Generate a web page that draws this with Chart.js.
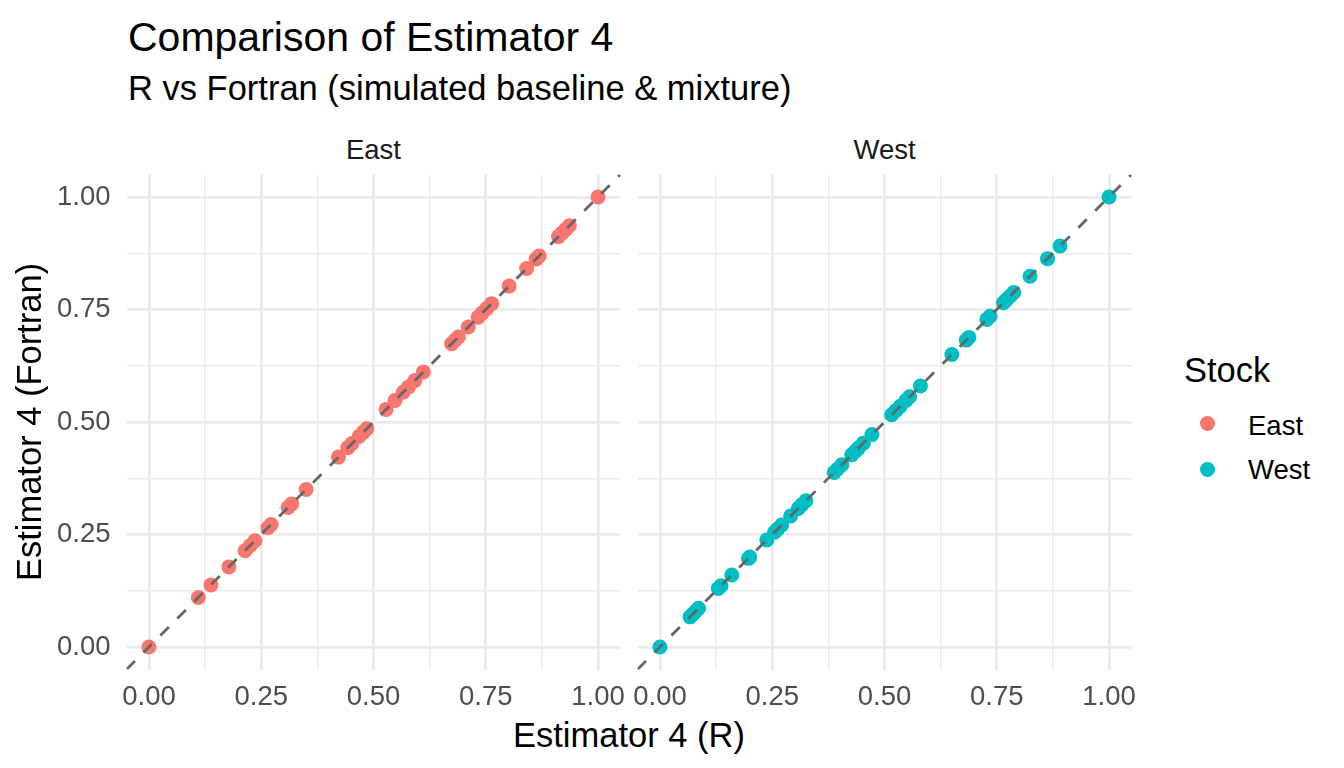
<!DOCTYPE html>
<html><head><meta charset="utf-8">
<script src="https://cdn.jsdelivr.net/npm/chart.js@4.4.1/dist/chart.umd.min.js"></script>
<style>
html,body{margin:0;padding:0;background:#fff}
body{width:1344px;height:768px;position:relative;overflow:hidden;font-family:"Liberation Sans",Arial,Helvetica,sans-serif}
canvas{position:absolute;left:0;top:0}
.t{position:absolute;white-space:nowrap;line-height:1;margin:0}
.key{position:absolute;width:15px;height:15px;border-radius:50%}
</style></head>
<body>
<div class="t" id="title" style="left:128px;top:17px;font-size:41px;color:#000">Comparison of Estimator 4</div>
<div class="t" id="subtitle" style="left:128px;top:70.5px;font-size:34.5px;color:#000">R vs Fortran (simulated baseline &amp; mixture)</div>
<div class="t" id="stripEast" style="left:373.5px;top:135.5px;font-size:27.5px;color:#1a1a1a;transform:translateX(-50%)"></div>
<div class="t" id="stripWest" style="left:884.5px;top:135.5px;font-size:27.5px;color:#1a1a1a;transform:translateX(-50%)"></div>
<div class="t" id="xtitle" style="left:629px;top:718px;font-size:34.5px;color:#000;transform:translateX(-50%)">Estimator 4 (R)</div>
<div class="t" id="legTitle" style="left:1184px;top:353px;font-size:34.5px;color:#000">Stock</div>
<div class="key" id="keyEast" style="left:1199.5px;top:416px"></div>
<div class="key" id="keyWest" style="left:1199.5px;top:462px"></div>
<div class="t" id="legEast" style="left:1248px;top:411.5px;font-size:27.5px;color:#000"></div>
<div class="t" id="legWest" style="left:1248px;top:455.5px;font-size:27.5px;color:#000"></div>
<canvas id="east" width="1344" height="768" style="width:1344px;height:768px"></canvas>
<canvas id="west" width="1344" height="768" style="width:1344px;height:768px"></canvas>
<script>
// ---- data ----
const stocks = ["East", "West"];
const stockColors = ["#F8766D", "#00BFC4"];
const eastR = [0.000, 0.110, 0.138, 0.178, 0.214, 0.225, 0.236, 0.265, 0.272, 0.310, 0.318, 0.350,
  0.422, 0.443, 0.452, 0.468, 0.478, 0.485, 0.528, 0.548, 0.566, 0.578, 0.592, 0.611,
  0.674, 0.682, 0.689, 0.711, 0.733, 0.742, 0.752, 0.763, 0.802, 0.841, 0.862, 0.869,
  0.912, 0.920, 0.928, 0.936, 1.000];
const eastFortran = [0.000, 0.110, 0.138, 0.178, 0.214, 0.225, 0.236, 0.265, 0.272, 0.310, 0.318, 0.350,
  0.422, 0.443, 0.452, 0.468, 0.478, 0.485, 0.528, 0.548, 0.566, 0.578, 0.592, 0.611,
  0.674, 0.682, 0.689, 0.711, 0.733, 0.742, 0.752, 0.763, 0.802, 0.841, 0.862, 0.869,
  0.912, 0.920, 0.928, 0.936, 1.000];
const westR = [0.000, 0.067, 0.074, 0.080, 0.086, 0.130, 0.136, 0.160, 0.197, 0.200, 0.238, 0.255,
  0.262, 0.271, 0.291, 0.308, 0.316, 0.325, 0.388, 0.395, 0.405, 0.427, 0.435, 0.442,
  0.453, 0.472, 0.516, 0.525, 0.535, 0.548, 0.556, 0.580, 0.650, 0.682, 0.688, 0.728,
  0.735, 0.765, 0.772, 0.780, 0.788, 0.824, 0.863, 0.891, 1.000];
const westFortran = [0.000, 0.067, 0.074, 0.080, 0.086, 0.130, 0.136, 0.160, 0.197, 0.200, 0.238, 0.255,
  0.262, 0.271, 0.291, 0.308, 0.316, 0.325, 0.388, 0.395, 0.405, 0.427, 0.435, 0.442,
  0.453, 0.472, 0.516, 0.525, 0.535, 0.548, 0.556, 0.580, 0.650, 0.682, 0.688, 0.728,
  0.735, 0.765, 0.772, 0.780, 0.788, 0.824, 0.863, 0.891, 1.000];
const majorBreaks = [0, 0.25, 0.5, 0.75, 1];
const tickLabels = ["0.00", "0.25", "0.50", "0.75", "1.00"];
const minorBreaks = [0.125, 0.375, 0.625, 0.875];
const axisRange = [-0.05, 1.05];
const refLine = [-0.05, 1.05]; // y = x identity line

// ---- text ----
document.getElementById('stripEast').textContent = stocks[0];
document.getElementById('stripWest').textContent = stocks[1];
document.getElementById('legEast').textContent = stocks[0];
document.getElementById('legWest').textContent = stocks[1];
document.getElementById('keyEast').style.background = stockColors[0];
document.getElementById('keyWest').style.background = stockColors[1];

const FONT = '"Liberation Sans", Arial, Helvetica, sans-serif';
const W = 1344, H = 768;
const panelTop = 174.5, panelBottom = 669.5;
const allBreaks = majorBreaks.concat(minorBreaks).sort((a,b)=>a-b);
const isMajor = v => majorBreaks.some(m => Math.abs(m - v) < 1e-9);
const gridOpts = {
  color: '#ebebeb',
  lineWidth: ctx => (ctx.tick && isMajor(ctx.tick.value)) ? 2.8 : 1.4,
  drawTicks: false
};
const setTicks = scale => { scale.ticks = allBreaks.map(v => ({value: v})); };
const labelFor = v => { const i = majorBreaks.findIndex(m => Math.abs(m - v) < 1e-9); return i >= 0 ? tickLabels[i] : ''; };

function makePanel(id, xs, ys, color, left, right, showY) {
  const pts = xs.map((x, i) => ({x: x, y: ys[i]}));
  return new Chart(document.getElementById(id), {
    type: 'scatter',
    data: { datasets: [
      { type: 'line', data: refLine.map(v => ({x: v, y: v})), borderColor: '#666666', borderWidth: 2.8,
        borderDash: [12, 12], pointRadius: 0, fill: false, clip: 0, order: 0 },
      { data: pts, backgroundColor: color, borderColor: color, borderWidth: 0, pointRadius: 7.5,
        pointHoverRadius: 7.5, clip: 0, order: 1 }
    ]},
    options: {
      responsive: false, animation: false, devicePixelRatio: 1,
      layout: { padding: { left: 0, top: panelTop, right: W - right, bottom: 0 } },
      plugins: { legend: { display: false }, tooltip: { enabled: false }, title: { display: false } },
      scales: {
        x: {
          type: 'linear', min: axisRange[0], max: axisRange[1],
          afterBuildTicks: setTicks,
          afterFit: s => { s.height = H - panelBottom; },
          grid: gridOpts, border: { display: false },
          ticks: { autoSkip: false, maxRotation: 0, minRotation: 0, padding: 11, color: '#4d4d4d',
            font: { family: FONT, size: 27.5 }, callback: v => labelFor(v) }
        },
        y: {
          type: 'linear', min: axisRange[0], max: axisRange[1],
          afterBuildTicks: setTicks,
          afterFit: s => { s.width = left; },
          grid: gridOpts, border: { display: false },
          title: { display: showY, text: 'Estimator 4 (Fortran)', color: '#000',
            font: { family: FONT, size: 34.5 }, padding: { top: 11, bottom: 0 } },
          ticks: { display: showY, autoSkip: false, padding: 16, color: '#4d4d4d',
            font: { family: FONT, size: 27.5 }, callback: v => labelFor(v) }
        }
      }
    }
  });
}
makePanel('east', eastR, eastFortran, stockColors[0], 126.5, 620.5, true);
makePanel('west', westR, westFortran, stockColors[1], 637.5, 1131.5, false);
</script>
</body></html>
